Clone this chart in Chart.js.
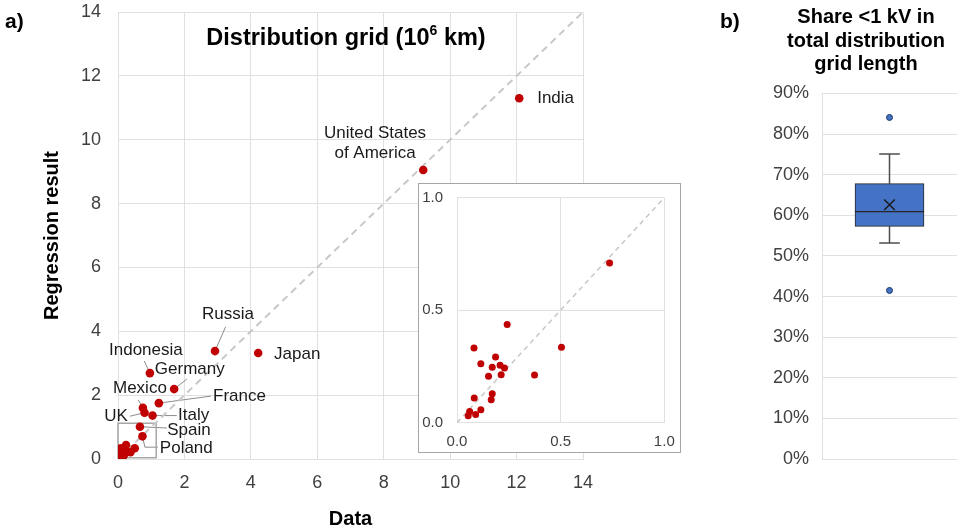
<!DOCTYPE html>
<html>
<head>
<meta charset="utf-8">
<script src="https://cdn.jsdelivr.net/npm/chart.js@4.4.1/dist/chart.umd.min.js"></script>
<style>
body { margin:0; background:#fff; font-family:"Liberation Sans", Arial, sans-serif; }
#wrap { position:relative; width:959px; height:531px; overflow:hidden; background:#fff; }
canvas { position:absolute; }
.txt { position:absolute; font-weight:bold; color:#000; white-space:nowrap; }
.txt sup { font-size:14px; line-height:0; vertical-align:10px; }
#inset { position:absolute; left:418px; top:183px; width:261px; height:268px; border:1px solid #a6a6a6; background:#fff; }
</style>
</head>
<body>
<div id="wrap">
  <canvas id="mainChart" width="600" height="531" style="left:0;top:0"></canvas>
  <div id="inset"><canvas id="insetChart" width="261" height="268" style="left:0;top:0"></canvas></div>
  <canvas id="boxChart" width="259" height="531" style="left:700px;top:0"></canvas>
  <div class="txt" style="left:5px;top:9px;font-size:21px">a)</div>
  <div class="txt" style="left:720px;top:9px;font-size:21px">b)</div>
  <div class="txt" style="left:346px;top:23px;font-size:23.5px;line-height:28px;transform:translateX(-50%)">Distribution grid (10<sup>6</sup> km)</div>
  <div class="txt" style="left:866px;top:5px;font-size:20px;line-height:23.5px;text-align:center;transform:translateX(-50%)">Share &lt;1 kV in<br>total distribution<br>grid length</div>
</div>
<script>
// a) distribution grid length, 10^6 km
const countryNames = ['India', 'United States of America', 'Japan', 'Russia', 'Indonesia', 'Germany',
  'France', 'Mexico', 'UK', 'Italy', 'Spain', 'Poland'];
const countryData = [12.08, 9.19, 4.22, 2.92, 0.96, 1.69, 1.23, 0.75, 0.80, 1.04, 0.66, 0.736];
const countryRegression = [11.30, 9.05, 3.32, 3.38, 2.69, 2.19, 1.75, 1.60, 1.45, 1.36, 1.01, 0.710];

// unlabelled countries (visible in the zoomed inset)
const otherData = [0.504, 0.374, 0.242, 0.082, 0.115, 0.186, 0.170, 0.208, 0.229, 0.213, 0.152,
  0.170, 0.165, 0.083, 0.115, 0.090, 0.061, 0.054];
const otherRegression = [0.335, 0.212, 0.437, 0.332, 0.262, 0.292, 0.247, 0.255, 0.243, 0.213, 0.207,
  0.129, 0.102, 0.110, 0.058, 0.036, 0.050, 0.031];

const mainTicks = [0, 14, 2];   // min, max, step
const insetTicks = [0, 1, 0.5];
const insetBoxX = [0, 1.15];
const insetBoxY = [0.04, 1.12];

// b) share <1 kV, percent
const boxMin = 53.2;
const boxQ1 = 57.3;
const boxMedian = 60.9;
const boxQ3 = 67.8;
const boxMax = 75.1;
const boxMean = 62.6;
const boxOutliers = [84.1, 41.5];
const boxTicks = [0, 90, 10];

// label placement, in data units
const labelLayout = {
  'India': { x: 12.62, y: 11.31, align: 'left' },
  'United States of America': { x: 7.74, y: 9.90, align: 'center', lines: ['United States', 'of America'] },
  'Japan': { x: 4.70, y: 3.29, align: 'left' },
  'Russia': { x: 3.31, y: 4.54, align: 'center', leader: [[3.24, 4.14]] },
  'Indonesia': { x: 0.84, y: 3.41, align: 'center', leader: [[0.79, 3.07]] },
  'Germany': { x: 1.11, y: 2.82, align: 'left', leader: [[2.07, 2.50]] },
  'France': { x: 2.86, y: 1.97, align: 'left', leader: [[2.80, 1.97]] },
  'Mexico': { x: 0.66, y: 2.22, align: 'center', leader: [[0.61, 1.85]] },
  'UK': { x: -0.06, y: 1.35, align: 'center', leader: [[0.36, 1.34]] },
  'Italy': { x: 1.81, y: 1.38, align: 'left', leader: [[1.77, 1.36]] },
  'Spain': { x: 1.48, y: 0.91, align: 'left', leader: [[1.47, 0.97]] },
  'Poland': { x: 1.26, y: 0.34, align: 'left', leader: [[1.20, 0.37], [0.81, 0.37]] }
};

Chart.defaults.font.family = '"Liberation Sans", Arial, sans-serif';
Chart.defaults.color = '#404040';

const red = '#c00000';
const gridColor = '#e0e0e0';

// keep the plot area where layout.padding puts it
const fixBox = (w, h) => s => {
  if (w !== null) s.width = w;
  if (h !== null) s.height = h;
  s.paddingTop = 0; s.paddingBottom = 0; s.paddingLeft = 0; s.paddingRight = 0;
};

const allPoints = countryData.map((v, i) => ({ x: v, y: countryRegression[i] }))
  .concat(otherData.map((v, i) => ({ x: v, y: otherRegression[i] })));

const labelPlugin = {
  id: 'countryLabels',
  beforeDatasetsDraw(chart) {
    const { ctx, scales: { x, y } } = chart;
    ctx.save();
    ctx.strokeStyle = '#8c8c8c';
    ctx.lineWidth = 1;
    countryNames.forEach((name, i) => {
      const lay = labelLayout[name];
      if (!lay.leader) return;
      ctx.beginPath();
      lay.leader.forEach((p, k) => {
        const px = x.getPixelForValue(p[0]);
        const py = y.getPixelForValue(p[1]);
        if (k === 0) ctx.moveTo(px, py); else ctx.lineTo(px, py);
      });
      ctx.lineTo(x.getPixelForValue(countryData[i]), y.getPixelForValue(countryRegression[i]));
      ctx.stroke();
    });
    // box marking the zoomed area
    ctx.strokeStyle = '#a6a6a6';
    ctx.lineWidth = 1.5;
    const bx0 = x.getPixelForValue(insetBoxX[0]), bx1 = x.getPixelForValue(insetBoxX[1]);
    const by0 = y.getPixelForValue(insetBoxY[0]), by1 = y.getPixelForValue(insetBoxY[1]);
    ctx.strokeRect(bx0, by1, bx1 - bx0, by0 - by1);
    ctx.restore();
  },
  afterDatasetsDraw(chart) {
    const { ctx, scales: { x, y } } = chart;
    ctx.save();
    ctx.font = '17px "Liberation Sans", Arial, sans-serif';
    ctx.fillStyle = '#1a1a1a';
    ctx.textBaseline = 'middle';
    countryNames.forEach(name => {
      const lay = labelLayout[name];
      const lines = lay.lines || [name];
      ctx.textAlign = lay.align;
      const px = x.getPixelForValue(lay.x);
      const py = y.getPixelForValue(lay.y);
      lines.forEach((t, k) => {
        ctx.fillText(t, px, py + (k - (lines.length - 1) / 2) * 20);
      });
    });
    ctx.restore();
  }
};

new Chart(document.getElementById('mainChart'), {
  type: 'scatter',
  data: {
    datasets: [
      {
        label: 'Countries',
        data: allPoints,
        pointRadius: 4.3,
        pointHoverRadius: 4.3,
        backgroundColor: red,
        borderWidth: 0
      },
      {
        type: 'line',
        label: 'Diagonal',
        data: [{ x: mainTicks[0], y: mainTicks[0] }, { x: mainTicks[1], y: mainTicks[1] }],
        showLine: true,
        borderColor: '#c8c8c8',
        borderWidth: 2,
        borderDash: [7, 5],
        pointRadius: 0,
        fill: false
      }
    ]
  },
  options: {
    responsive: false,
    animation: false,
    layout: { autoPadding: false, padding: { left: 0, top: 12, right: 17, bottom: 0 } },
    plugins: { legend: { display: false }, tooltip: { enabled: false } },
    scales: {
      x: {
        type: 'linear',
        min: mainTicks[0], max: mainTicks[1],
        ticks: { stepSize: mainTicks[2], padding: 13, font: { size: 18 } },
        grid: { color: gridColor, drawTicks: false },
        border: { color: gridColor },
        title: { display: true, text: 'Data', color: '#000', font: { size: 20, weight: 'bold' }, padding: { top: 0, bottom: 0 } },
        afterFit: fixBox(null, 72)
      },
      y: {
        type: 'linear',
        min: mainTicks[0], max: mainTicks[1],
        ticks: { stepSize: mainTicks[2], padding: 17, font: { size: 18 } },
        grid: { color: gridColor, drawTicks: false },
        border: { color: gridColor },
        title: { display: true, text: 'Regression result', color: '#000', font: { size: 20, weight: 'bold' }, padding: { top: 40, bottom: 0 } },
        afterFit: fixBox(118, null)
      }
    }
  },
  plugins: [labelPlugin]
});

new Chart(document.getElementById('insetChart'), {
  type: 'scatter',
  data: {
    datasets: [
      {
        label: 'Countries',
        data: allPoints.filter(p => p.x <= insetTicks[1] && p.y <= insetTicks[1]),
        pointRadius: 3.5,
        pointHoverRadius: 3.5,
        backgroundColor: red,
        borderWidth: 0
      },
      {
        type: 'line',
        label: 'Diagonal',
        data: [{ x: insetTicks[0], y: insetTicks[0] }, { x: insetTicks[1], y: insetTicks[1] }],
        showLine: true,
        borderColor: '#c8c8c8',
        borderWidth: 1.5,
        borderDash: [5, 4],
        pointRadius: 0,
        fill: false
      }
    ]
  },
  options: {
    responsive: false,
    animation: false,
    layout: { autoPadding: false, padding: { left: 0, top: 13.7, right: 15.7, bottom: 0 } },
    plugins: { legend: { display: false }, tooltip: { enabled: false } },
    scales: {
      x: {
        type: 'linear',
        min: insetTicks[0], max: insetTicks[1],
        ticks: { stepSize: insetTicks[2], padding: 10, font: { size: 15 }, callback: v => v.toFixed(1) },
        grid: { color: gridColor, drawTicks: false },
        border: { color: gridColor },
        afterFit: fixBox(null, 29.3)
      },
      y: {
        type: 'linear',
        min: insetTicks[0], max: insetTicks[1],
        ticks: { stepSize: insetTicks[2], padding: 14, font: { size: 15 }, callback: v => v.toFixed(1) },
        grid: { color: gridColor, drawTicks: false },
        border: { color: gridColor },
        afterFit: fixBox(38, null)
      }
    }
  }
});

const capHalf = 0.153;
const boxBlue = '#4472c4';
const whisker = { type: 'line', borderColor: '#4d4d4d', borderWidth: 1.5, pointRadius: 0, fill: false, order: 3 };

new Chart(document.getElementById('boxChart'), {
  type: 'bar',
  data: {
    datasets: [
      { type: 'scatter', label: 'Mean', data: [{ x: 0, y: boxMean }], pointStyle: 'crossRot', pointRadius: 7.5,
        borderColor: '#1a1a1a', borderWidth: 1.5, order: 0 },
      { type: 'scatter', label: 'Outliers', data: boxOutliers.map(v => ({ x: 0, y: v })), pointRadius: 3,
        backgroundColor: boxBlue, borderColor: '#1f3864', borderWidth: 1, order: 0 },
      { type: 'bar', label: 'Q1-median', data: [{ x: 0, y: [boxQ1, boxMedian] }], backgroundColor: boxBlue,
        borderColor: '#262626', borderWidth: 1, borderSkipped: false, barThickness: 69, grouped: false, order: 2 },
      { type: 'bar', label: 'median-Q3', data: [{ x: 0, y: [boxMedian, boxQ3] }], backgroundColor: boxBlue,
        borderColor: '#262626', borderWidth: 1, borderSkipped: false, barThickness: 69, grouped: false, order: 2 },
      { ...whisker, label: 'upper whisker', data: [{ x: 0, y: boxQ3 }, { x: 0, y: boxMax }] },
      { ...whisker, label: 'lower whisker', data: [{ x: 0, y: boxQ1 }, { x: 0, y: boxMin }] },
      { ...whisker, label: 'upper cap', data: [{ x: -capHalf, y: boxMax }, { x: capHalf, y: boxMax }] },
      { ...whisker, label: 'lower cap', data: [{ x: -capHalf, y: boxMin }, { x: capHalf, y: boxMin }] }
    ]
  },
  options: {
    responsive: false,
    animation: false,
    layout: { autoPadding: false, padding: { left: 0, top: 93.5, right: 2, bottom: 72 } },
    plugins: { legend: { display: false }, tooltip: { enabled: false } },
    scales: {
      x: { type: 'linear', min: -1, max: 1, offset: false, display: false, afterFit: fixBox(null, 0) },
      y: {
        type: 'linear',
        min: boxTicks[0], max: boxTicks[1],
        ticks: { stepSize: boxTicks[2], padding: 13, font: { size: 18 }, callback: v => v + '%' },
        grid: { color: gridColor, drawTicks: false },
        border: { color: gridColor },
        afterFit: fixBox(122, null)
      }
    }
  }
});
</script>
</body>
</html>
